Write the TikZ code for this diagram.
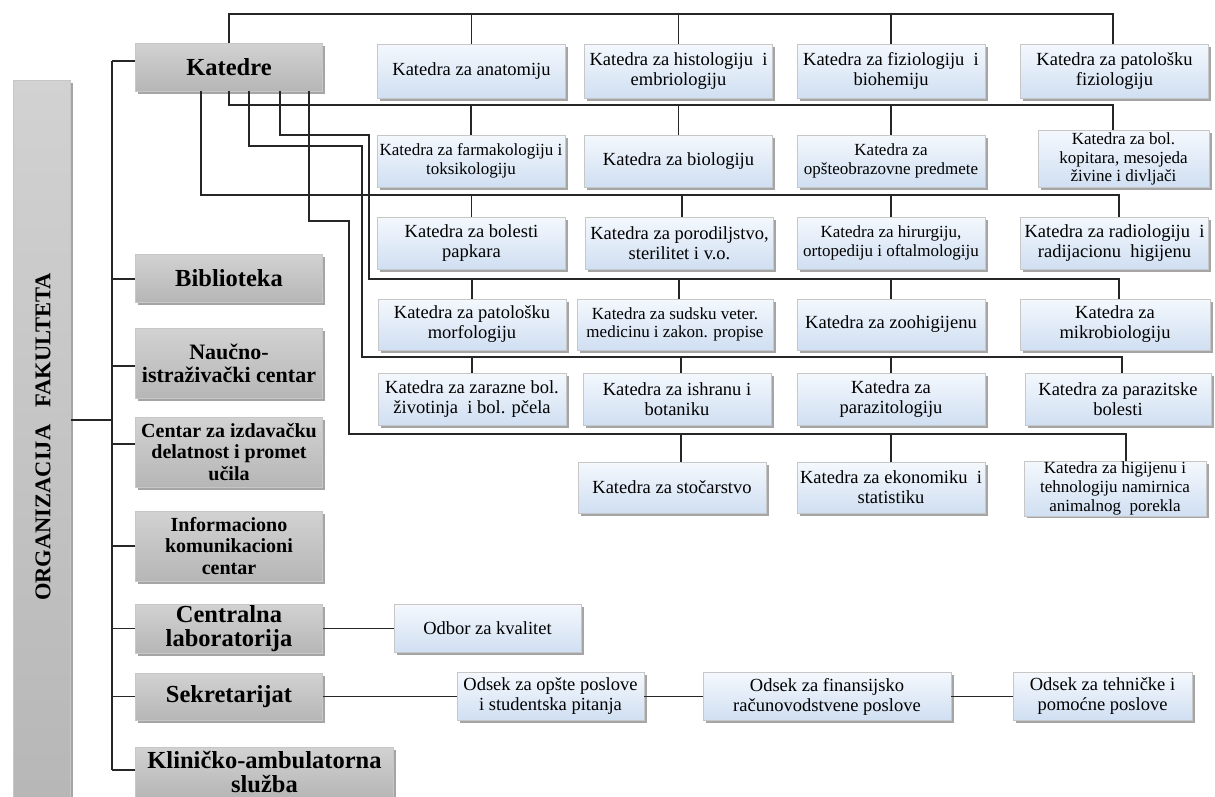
\documentclass[tikz,border=0pt]{standalone}
\usepackage{fontspec}
\setmainfont{Liberation Serif}
\usetikzlibrary{shadows}
\definecolor{btop}{HTML}{F4F8FD}
\definecolor{bbot}{HTML}{D0DFF2}
\definecolor{gtop}{HTML}{D2D2D2}
\definecolor{gbot}{HTML}{B6B6B6}
\definecolor{lncol}{HTML}{262626}
\tikzset{
  boxbase/.style={draw=black!22, line width=0.6pt, inner sep=1pt, align=center,
     drop shadow={shadow xshift=2.5pt, shadow yshift=-2.5pt, fill=black!70, opacity=0.5}},
  bluebox/.style={boxbase, top color=btop, bottom color=bbot, minimum width=188pt, minimum height=52pt, font=\fontsize{18.5}{20}\selectfont},
  bluesmall/.style={bluebox, font=\fontsize{17}{18.7}\selectfont},
  graybox/.style={boxbase, top color=gtop, bottom color=gbot, minimum width=187pt, minimum height=48pt, font=\bfseries\fontsize{24.5}{24.5}\selectfont},
  graymid/.style={graybox, font=\bfseries\fontsize{22}{23}\selectfont},
  graysmall/.style={graybox, font=\bfseries\fontsize{20}{21.7}\selectfont},
  conn/.style={draw=lncol, line width=1.1pt},
}
\begin{document}
\begin{tikzpicture}[x=1pt,y=-1pt]
\fill[white] (0,0) rectangle (1215,796);
\clip (0,0) rectangle (1215,796);

% left column
\node[graybox, minimum width=57pt, minimum height=740pt] (org) at (42,450) {};
\node[rotate=90, font=\bfseries\fontsize{22.5}{22.5}\selectfont] (orgtxt) at (43,437) {ORGANIZACIJA\hspace{17pt}FAKULTETA};

\node[graybox] (kat) at (229,67) {Katedre};
\node[graybox] (bib) at (229,278) {Biblioteka};
\node[graymid, minimum height=70pt] (nauc) at (229,363) {Naučno-\\istraživački centar};
\node[graysmall, minimum height=70pt] (cent) at (229,452) {Centar za izdavačku\\delatnost i promet\\učila};
\node[graysmall, minimum height=70pt] (info) at (229,546) {Informaciono\\komunikacioni\\centar};
\node[graybox, minimum height=49pt, font=\bfseries\fontsize{24.5}{24}\selectfont] (lab) at (229,628.5) {Centralna\\laboratorija};
\node[graybox, minimum height=47pt] (sekr) at (229,696.5) {Sekretarijat};
\node[graybox, minimum width=258pt, minimum height=50pt, font=\bfseries\fontsize{24.5}{23.5}\selectfont] (klin) at (264.5,772) {Kliničko-ambulatorna\\služba};

% row 1
\node[bluebox, minimum height=54pt] (k11) at (471.5,71) {Katedra za anatomiju};
\node[bluebox, minimum height=54pt] (k12) at (678.5,71) {Katedra za histologiju~ i\\embriologiju};
\node[bluebox, minimum height=54pt] (k13) at (891,71) {Katedra za fiziologiju~ i\\biohemiju};
\node[bluebox, minimum height=54pt] (k14) at (1114.5,71) {Katedra za patološku\\fiziologiju};
% row 2
\node[bluesmall] (k21) at (471,161) {Katedra za farmakologiju i\\toksikologiju};
\node[bluebox] (k22) at (678.5,161) {Katedra za biologiju};
\node[bluesmall] (k23) at (891,161) {Katedra za\\opšteobrazovne predmete};
\node[bluesmall, minimum width=171pt, minimum height=57pt] (k24) at (1123.5,159) {Katedra za bol.\\kopitara, mesojeda\\živine i divljači};
% row 3
\node[bluebox] (k31) at (471.5,243) {Katedra za bolesti\\papkara};
\node[bluebox] (k32) at (679.5,243) {Katedra za porodiljstvo,\\sterilitet i v.o.};
\node[bluesmall] (k33) at (891,243) {Katedra za hirurgiju,\\ortopediju i oftalmologiju};
\node[bluebox] (k34) at (1114.5,243) {Katedra za radiologiju~ i\\radijacionu~ higijenu};
% row 4
\node[bluebox, minimum height=51pt] (k41) at (472,324.5) {Katedra za patološku\\morfologiju};
\node[bluesmall, minimum width=196pt, minimum height=51pt] (k42) at (675,324.5) {Katedra za sudsku veter.\\medicinu i zakon. propise};
\node[bluebox, minimum height=51pt] (k43) at (891,324.5) {Katedra za zoohigijenu};
\node[bluebox, minimum width=190pt, minimum height=51pt] (k44) at (1115,324.5) {Katedra za\\mikrobiologiju};
% row 5
\node[bluebox] (k51) at (472,399) {Katedra za zarazne bol.\\životinja~ i bol. pčela};
\node[bluebox] (k52) at (677,399) {Katedra za ishranu i\\botaniku};
\node[bluebox] (k53) at (891,399) {Katedra za\\parazitologiju};
\node[bluebox, minimum width=186pt] (k54) at (1118,399) {Katedra za parazitske\\bolesti};
% row 6
\node[bluebox, minimum height=51pt] (k61) at (672,487.5) {Katedra za stočarstvo};
\node[bluebox, minimum height=51pt] (k62) at (891,487.5) {Katedra za ekonomiku~ i\\statistiku};
\node[bluesmall, minimum width=182pt, minimum height=53pt] (k63) at (1115,488.5) {Katedra za higijenu i\\tehnologiju namirnica\\animalnog~ porekla};

% bottom
\node[bluebox, minimum width=187pt, minimum height=48pt] (odbor) at (487.5,628.5) {Odbor za kvalitet};
\node[bluebox, minimum width=187pt, minimum height=48pt] (ods1) at (550.5,696.5) {Odsek za opšte poslove\\i studentska pitanja};
\node[bluebox, minimum width=248pt, minimum height=48pt] (ods2) at (827,696.5) {Odsek za finansijsko\\računovodstvene poslove};
\node[bluebox, minimum width=179pt, minimum height=48pt] (ods3) at (1102.5,696.5) {Odsek za tehničke i\\pomoćne poslove};

% trunk
\coordinate (tT) at (112,61);
\coordinate (tB) at (112,770);
\coordinate (tbib) at (112,279);
\coordinate (tnauc) at (112,366);
\coordinate (torg) at (112,420);
\coordinate (tcent) at (112,444);
\coordinate (tinfo) at (112,546);
\coordinate (tlab) at (112,628.5);
\coordinate (tsekr) at (112,696.5);
\draw[conn] (tT) -- (tB);
\draw[conn] (tT) -- (tT -| kat.west);
\draw[conn] (tbib) -- (tbib -| bib.west);
\draw[conn] (tnauc) -- (tnauc -| nauc.west);
\draw[conn] (org.east |- torg) -- (torg);
\draw[conn] (tcent) -- (tcent -| cent.west);
\draw[conn] (tinfo) -- (tinfo -| info.west);
\draw[conn] (tlab) -- (tlab -| lab.west);
\draw[conn] (tsekr) -- (tsekr -| sekr.west);
\draw[conn] (tB) -- (tB -| klin.west);

% row 1 bus
\coordinate (b1s) at (229,14);
\coordinate (b1e) at (1113,14);
\draw[conn] (kat.north) -- (b1s) -- (b1e) -- (b1e |- k14.north);
\foreach \n in {k11,k12,k13} \draw[conn] (\n.north) -- (\n.north |- b1s);

% row 2 bus
\coordinate (b2s) at (229,105);
\coordinate (b2e) at (1113,105);
\draw[conn] (kat.south) -- (b2s) -- (b2e) -- (b2e |- k24.north);
\foreach \n in {k21,k22,k23} \draw[conn] (\n.north) -- (\n.north |- b2s);

% row 3 bus
\coordinate (b3s) at (201,195);
\coordinate (b3e) at (1119,195);
\coordinate (d32) at (682,195);
\draw[conn] (kat.south -| b3s) -- (b3s) -- (b3e) -- (b3e |- k34.north);
\draw[conn] (k31.north) -- (k31.north |- b3s);
\draw[conn] (d32) -- (d32 |- k32.north);
\draw[conn] (k33.north) -- (k33.north |- b3s);

% row 4 bus
\coordinate (b4a) at (280,135);
\coordinate (b4b) at (369,135);
\coordinate (b4s) at (369,279);
\coordinate (b4e) at (1119,279);
\coordinate (d42) at (679,279);
\draw[conn] (kat.south -| b4a) -- (b4a) -- (b4b) -- (b4s) -- (b4e) -- (b4e |- k44.north);
\draw[conn] (k41.north) -- (k41.north |- b4s);
\draw[conn] (d42) -- (d42 |- k42.north);
\draw[conn] (k43.north) -- (k43.north |- b4s);

% row 5 bus
\coordinate (b5a) at (249,146);
\coordinate (b5b) at (362,146);
\coordinate (b5s) at (362,357);
\coordinate (b5e) at (1122,357);
\coordinate (d52) at (681,357);
\draw[conn] (kat.south -| b5a) -- (b5a) -- (b5b) -- (b5s) -- (b5e) -- (b5e |- k54.north);
\draw[conn] (k51.north) -- (k51.north |- b5s);
\draw[conn] (d52) -- (d52 |- k52.north);
\draw[conn] (k53.north) -- (k53.north |- b5s);

% row 6 bus
\coordinate (b6a) at (309,221);
\coordinate (b6b) at (349,221);
\coordinate (b6s) at (349,434);
\coordinate (b6e) at (1126,434);
\coordinate (d61) at (681,434);
\draw[conn] (kat.south -| b6a) -- (b6a) -- (b6b) -- (b6s) -- (b6e) -- (b6e |- k63.north);
\draw[conn] (d61) -- (d61 |- k61.north);
\draw[conn] (k62.north) -- (k62.north |- b6s);

% bottom connectors
\draw[conn] (lab.east) -- (odbor.west);
\draw[conn] (sekr.east) -- (ods1.west);
\draw[conn] (ods1.east) -- (ods2.west);
\draw[conn] (ods2.east) -- (ods3.west);
\end{tikzpicture}
\end{document}
